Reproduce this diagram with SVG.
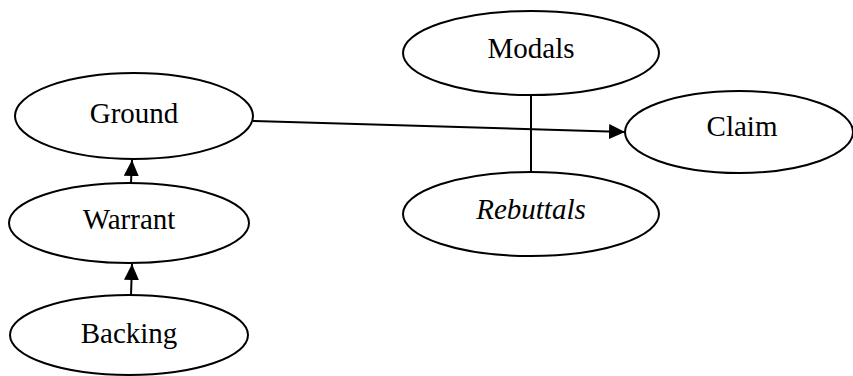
<svg xmlns="http://www.w3.org/2000/svg" width="853" height="376" viewBox="0 0 853 376">
<style>
.n ellipse{fill:#fff;stroke:#000;stroke-width:2}
.n text{font-family:"Liberation Serif","Times New Roman",serif;font-size:29px;fill:#000;text-anchor:middle}
.e line{stroke:#000;stroke-width:2}
</style>
<defs>
<marker id="ah" markerWidth="16" markerHeight="15" refX="16" refY="7.5" orient="auto" markerUnits="userSpaceOnUse">
<path d="M0,0 L16,7.5 L0,15 Z" fill="#000"/>
</marker>
</defs>
<rect width="853" height="376" fill="#fff"/>
<g id="connectors" class="e">
<line x1="253" y1="121" x2="625" y2="132" marker-end="url(#ah)"/>
<line x1="531" y1="95" x2="531" y2="172"/>
<line x1="131" y1="183" x2="132" y2="160" marker-end="url(#ah)"/>
<line x1="131" y1="295" x2="132" y2="264" marker-end="url(#ah)"/>
</g>
<g id="ground" class="n"><ellipse cx="134" cy="116" rx="119" ry="43"/><text x="134" y="123">Ground</text></g>
<g id="warrant" class="n"><ellipse cx="129" cy="223" rx="120" ry="40"/><text x="129" y="229">Warrant</text></g>
<g id="backing" class="n"><ellipse cx="129" cy="335" rx="119" ry="40"/><text x="129" y="343">Backing</text></g>
<g id="modals" class="n"><ellipse cx="531" cy="53" rx="128" ry="42"/><text x="531" y="58">Modals</text></g>
<g id="rebuttals" class="n"><ellipse cx="531" cy="214" rx="128" ry="42"/><text x="531" y="219" font-style="italic">Rebuttals</text></g>
<g id="claim" class="n"><ellipse cx="739" cy="132" rx="114" ry="41"/><text x="742" y="136">Claim</text></g>
</svg>
